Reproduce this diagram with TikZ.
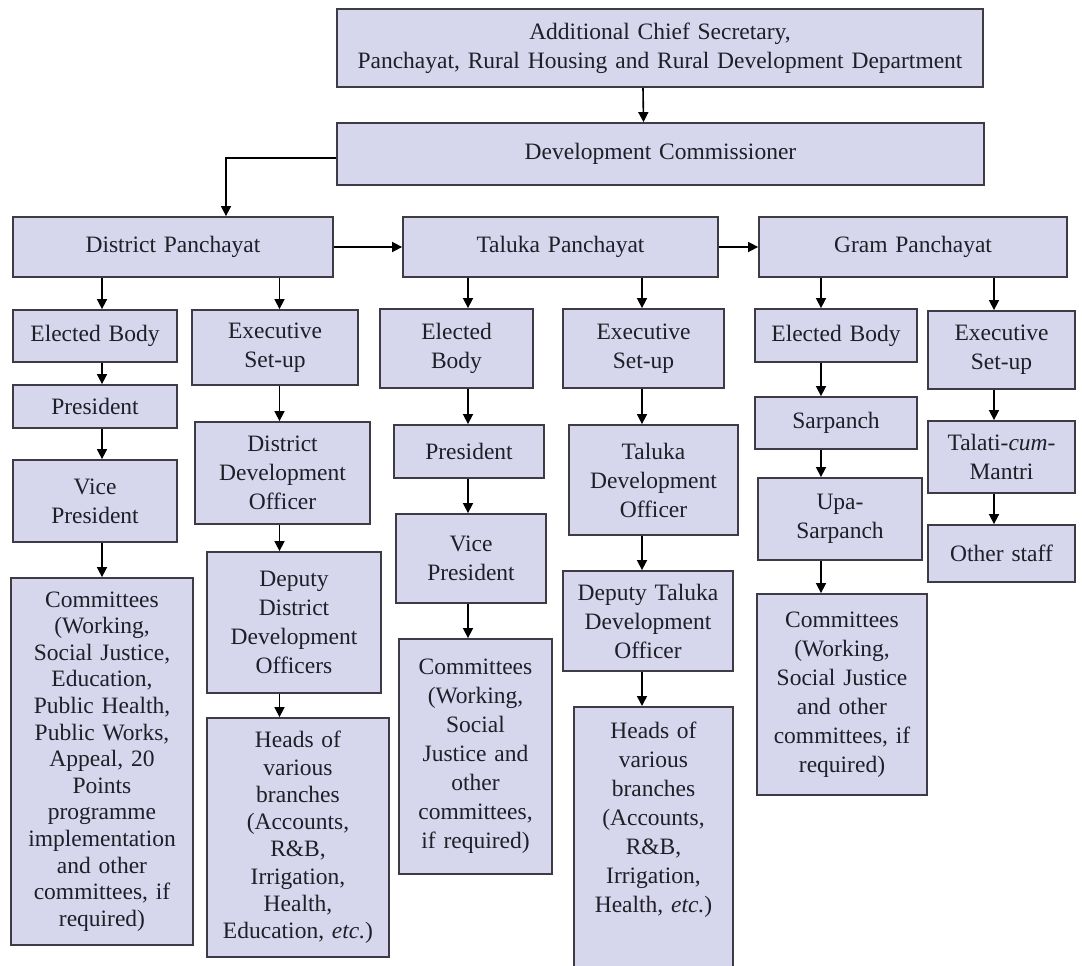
\documentclass[tikz,border=0pt]{standalone}
\usepackage{fontspec}
\setmainfont{Liberation Serif}
\usetikzlibrary{arrows.meta}

\begin{document}
\begin{tikzpicture}[x=1pt,y=-1pt,
  box/.style={rectangle,draw=drawColor,fill=fillColor,line width=1.8pt,inner xsep=2pt,inner ysep=0pt,
    align=center,text=textColor,font=\fontsize{23.5}{29}\selectfont},
  arr/.style={draw=black,line width=1.6pt,-{Triangle[length=10pt,width=10pt]}}]
\definecolor{fillColor}{RGB}{214,215,236}
\definecolor{drawColor}{RGB}{62,58,70}
\definecolor{textColor}{RGB}{32,30,40}
\path[use as bounding box,fill=white] (0,0) rectangle (1082,966);

\node[box,minimum width=646pt,minimum height=78pt,text width=640pt] (acs) at (660,48) {Additional Chief Secretary,\\Panchayat, Rural Housing and Rural Development Department};

\node[box,minimum width=647pt,minimum height=62pt,text width=640pt] (dc) at (660.5,154) {Development Commissioner};

\node[box,minimum width=320pt,minimum height=60pt,text width=314pt] (dp) at (173,247) {District Panchayat};

\node[box,minimum width=315pt,minimum height=60pt,text width=309pt] (tp) at (560.5,247) {Taluka Panchayat};

\node[box,minimum width=308pt,minimum height=60pt,text width=302pt] (gp) at (913,247) {Gram Panchayat};

\node[box,minimum width=164pt,minimum height=52pt,text width=158pt] (ebD) at (95,336) {Elected Body};

\node[box,minimum width=164pt,minimum height=43pt,text width=158pt] (presD) at (95,406.5) {President};

\node[box,minimum width=164pt,minimum height=82pt,text width=158pt] (vpD) at (95,501) {Vice\\President};

\node[box,minimum width=182pt,minimum height=367pt,text width=176pt,font=\fontsize{23.5}{26.6}\selectfont] (comD) at (102,761.5) {Committees\\(Working,\\Social Justice,\\Education,\\Public Health,\\Public Works,\\Appeal, 20\\Points\\programme\\implementation\\and other\\committees, if\\required)};

\node[box,minimum width=166pt,minimum height=75pt,text width=160pt] (exD) at (275,347.5) {Executive\\Set-up};

\node[box,minimum width=175pt,minimum height=102pt,text width=169pt] (ddo) at (282.5,473) {District\\Development\\Officer};

\node[box,minimum width=174pt,minimum height=141pt,text width=168pt] (dddo) at (294,622.5) {Deputy\\District\\Development\\Officers};

\node[box,minimum width=182pt,minimum height=239pt,text width=176pt,font=\fontsize{23.5}{27.3}\selectfont] (headsD) at (298,837.5) {Heads of\\various\\branches\\(Accounts,\\R\&B,\\Irrigation,\\Health,\\Education, \textit{etc.})};

\node[box,minimum width=153pt,minimum height=79pt,text width=147pt] (ebT) at (456.5,348.5) {Elected\\Body};

\node[box,minimum width=150pt,minimum height=53pt,text width=144pt] (presT) at (469,451.5) {President};

\node[box,minimum width=150pt,minimum height=89pt,text width=144pt] (vpT) at (471,558.5) {Vice\\President};

\node[box,minimum width=153pt,minimum height=235pt,text width=147pt] (comT) at (475.5,756.5) {Committees\\(Working,\\Social\\Justice and\\other\\committees,\\if required)};

\node[box,minimum width=161pt,minimum height=79pt,text width=155pt] (exT) at (643.5,348.5) {Executive\\Set-up};

\node[box,minimum width=169pt,minimum height=110pt,text width=163pt] (tdo) at (653.5,480) {Taluka\\Development\\Officer};

\node[box,minimum width=170pt,minimum height=100pt,text width=164pt] (dtdo) at (648,621) {Deputy Taluka\\Development\\Officer};

\node[box,anchor=north,minimum width=159pt,text width=153pt] (headsT) at (653.5,706) {\parbox[c][285pt][t]{153pt}{\vspace*{15pt}\centering Heads of\\various\\branches\\(Accounts,\\R\&B,\\Irrigation,\\Health, \textit{etc.})}};

\node[box,minimum width=162pt,minimum height=53pt,text width=156pt] (ebG) at (836,335.5) {Elected Body};

\node[box,minimum width=162pt,minimum height=52pt,text width=156pt] (sar) at (836,423) {Sarpanch};

\node[box,minimum width=164pt,minimum height=82pt,text width=158pt] (upa) at (840,519) {Upa-\\Sarpanch};

\node[box,minimum width=170pt,minimum height=201pt,text width=164pt] (comG) at (842,694.5) {Committees\\(Working,\\Social Justice\\and other\\committees, if\\required)};

\node[box,minimum width=147pt,minimum height=78pt,text width=141pt] (exG) at (1001.5,350) {Executive\\Set-up};

\node[box,minimum width=147pt,minimum height=72pt,text width=141pt] (tal) at (1001.5,457) {Talati-\textit{cum}-\\Mantri};

\node[box,minimum width=147pt,minimum height=57pt,text width=141pt] (oth) at (1001.5,553.5) {Other staff};

\coordinate (colD1) at (102,0);
\coordinate (colD2) at (279.5,0);
\coordinate (colT1) at (468,0);
\coordinate (colT2) at (642,0);
\coordinate (colG1) at (821,0);
\coordinate (colG2) at (994,0);

\draw[arr] ([xshift=-17pt]acs.south) -- ([xshift=-17pt]dc.north);
\draw[arr] ([yshift=-4pt]dc.west) -| ([xshift=53pt]dp.north);
\draw[arr] (dp.east) -- (tp.west);
\draw[arr] (tp.east) -- (gp.west);

\draw[arr] (dp.south -| colD1) -- (ebD.north -| colD1);
\draw[arr] (ebD.south -| colD1) -- (presD.north -| colD1);
\draw[arr] (presD.south -| colD1) -- (vpD.north -| colD1);
\draw[arr] (vpD.south -| colD1) -- (comD.north -| colD1);
\draw[arr] (dp.south -| colD2) -- (exD.north -| colD2);
\draw[arr] (exD.south -| colD2) -- (ddo.north -| colD2);
\draw[arr] (ddo.south -| colD2) -- (dddo.north -| colD2);
\draw[arr] (dddo.south -| colD2) -- (headsD.north -| colD2);

\draw[arr] (tp.south -| colT1) -- (ebT.north -| colT1);
\draw[arr] (ebT.south -| colT1) -- (presT.north -| colT1);
\draw[arr] (presT.south -| colT1) -- (vpT.north -| colT1);
\draw[arr] (vpT.south -| colT1) -- (comT.north -| colT1);
\draw[arr] (tp.south -| colT2) -- (exT.north -| colT2);
\draw[arr] (exT.south -| colT2) -- (tdo.north -| colT2);
\draw[arr] (tdo.south -| colT2) -- (dtdo.north -| colT2);
\draw[arr] (dtdo.south -| colT2) -- (headsT.north -| colT2);

\draw[arr] (gp.south -| colG1) -- (ebG.north -| colG1);
\draw[arr] (ebG.south -| colG1) -- (sar.north -| colG1);
\draw[arr] (sar.south -| colG1) -- (upa.north -| colG1);
\draw[arr] (upa.south -| colG1) -- (comG.north -| colG1);
\draw[arr] (gp.south -| colG2) -- (exG.north -| colG2);
\draw[arr] (exG.south -| colG2) -- (tal.north -| colG2);
\draw[arr] (tal.south -| colG2) -- (oth.north -| colG2);
\end{tikzpicture}
\end{document}
